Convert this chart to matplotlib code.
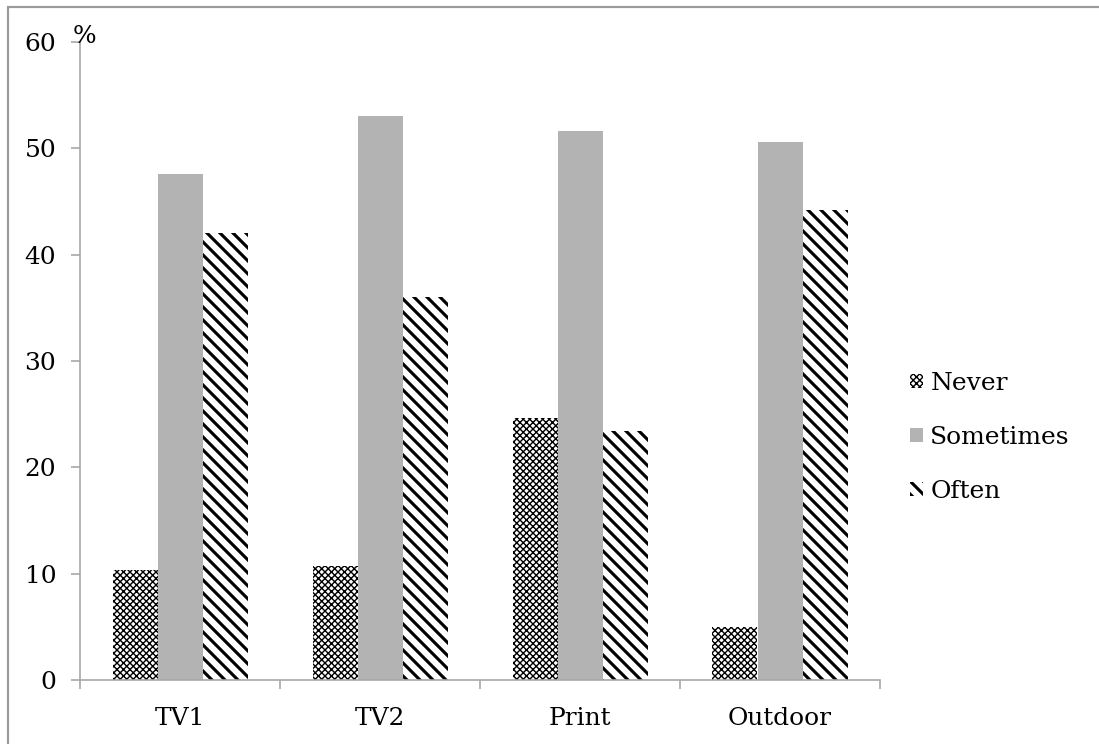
import matplotlib.pyplot as plt
from matplotlib.patches import Rectangle
import numpy as np

categorias = ['TV1', 'TV2', 'Print', 'Outdoor']
series = ['Never', 'Sometimes', 'Often']
never = [10.3, 10.7, 24.6, 5.0]
sometimes = [47.6, 53.0, 51.6, 50.6]
often = [42.0, 36.0, 23.4, 44.2]
yticks = [0, 10, 20, 30, 40, 50, 60]

DPI = 78
plt.rcParams['font.family'] = 'DejaVu Serif'
fs = 23

fig = plt.figure(figsize=(1099 / DPI, 744 / DPI), dpi=DPI)
ax = fig.add_axes([80 / 1099, 64 / 744, 800 / 1099, 638 / 744])

x = np.arange(len(categorias))
w = 0.225
lw_never = 1.3
lw_often = 2.9

b1 = ax.bar(x - w, never, w, color='white', edgecolor='black', linewidth=0,
            hatch='xxxx', label='Never')
b2 = ax.bar(x, sometimes, w, color='#b3b3b3', linewidth=0, label='Sometimes')
b3 = ax.bar(x + w, often, w, color='white', edgecolor='black', linewidth=0,
            hatch='\\\\', label='Often')
try:
    for p in b1:
        p.set_hatch_linewidth(lw_never)
    for p in b3:
        p.set_hatch_linewidth(lw_often)
except AttributeError:
    pass

ax.set_xlim(-0.5, len(categorias) - 0.5)
ax.set_ylim(0, 60)
ax.set_yticks(yticks)
ax.set_yticklabels([str(v) for v in yticks], fontsize=fs)
ax.set_xticks(x)
ax.set_xticklabels(categorias, fontsize=fs)
ax.tick_params(axis='x', length=0, pad=25)
ax.set_xticks(np.arange(len(categorias) + 1) - 0.5, minor=True)
ax.tick_params(axis='x', which='minor', length=8, color='#a6a6a6', width=1.5)
ax.tick_params(axis='y', length=8, color='#a6a6a6', width=1.5, pad=14)

for s in ['top', 'right']:
    ax.spines[s].set_visible(False)
for s in ['left', 'bottom']:
    ax.spines[s].set_color('#a6a6a6')
    ax.spines[s].set_linewidth(1.5)

ax.text(0.006, 0.99, '%', transform=ax.transAxes, fontsize=fs, ha='center', va='bottom')

leg = ax.legend(loc='center left', bbox_to_anchor=(1.01, 0.38), frameon=False,
                fontsize=fs, handlelength=0.5, handleheight=0.5, handletextpad=0.3,
                labelspacing=1.25)
try:
    leg.legend_handles[0].set_hatch_linewidth(lw_never)
    leg.legend_handles[2].set_hatch_linewidth(lw_often)
except AttributeError:
    pass

fig.patches.append(Rectangle((8 / 1099, -0.1), 1.2, 0.1 + 1 - 7 / 744,
                             transform=fig.transFigure, fill=False,
                             edgecolor='#9a9a9a', linewidth=2))

plt.savefig('out.png', dpi=DPI)
